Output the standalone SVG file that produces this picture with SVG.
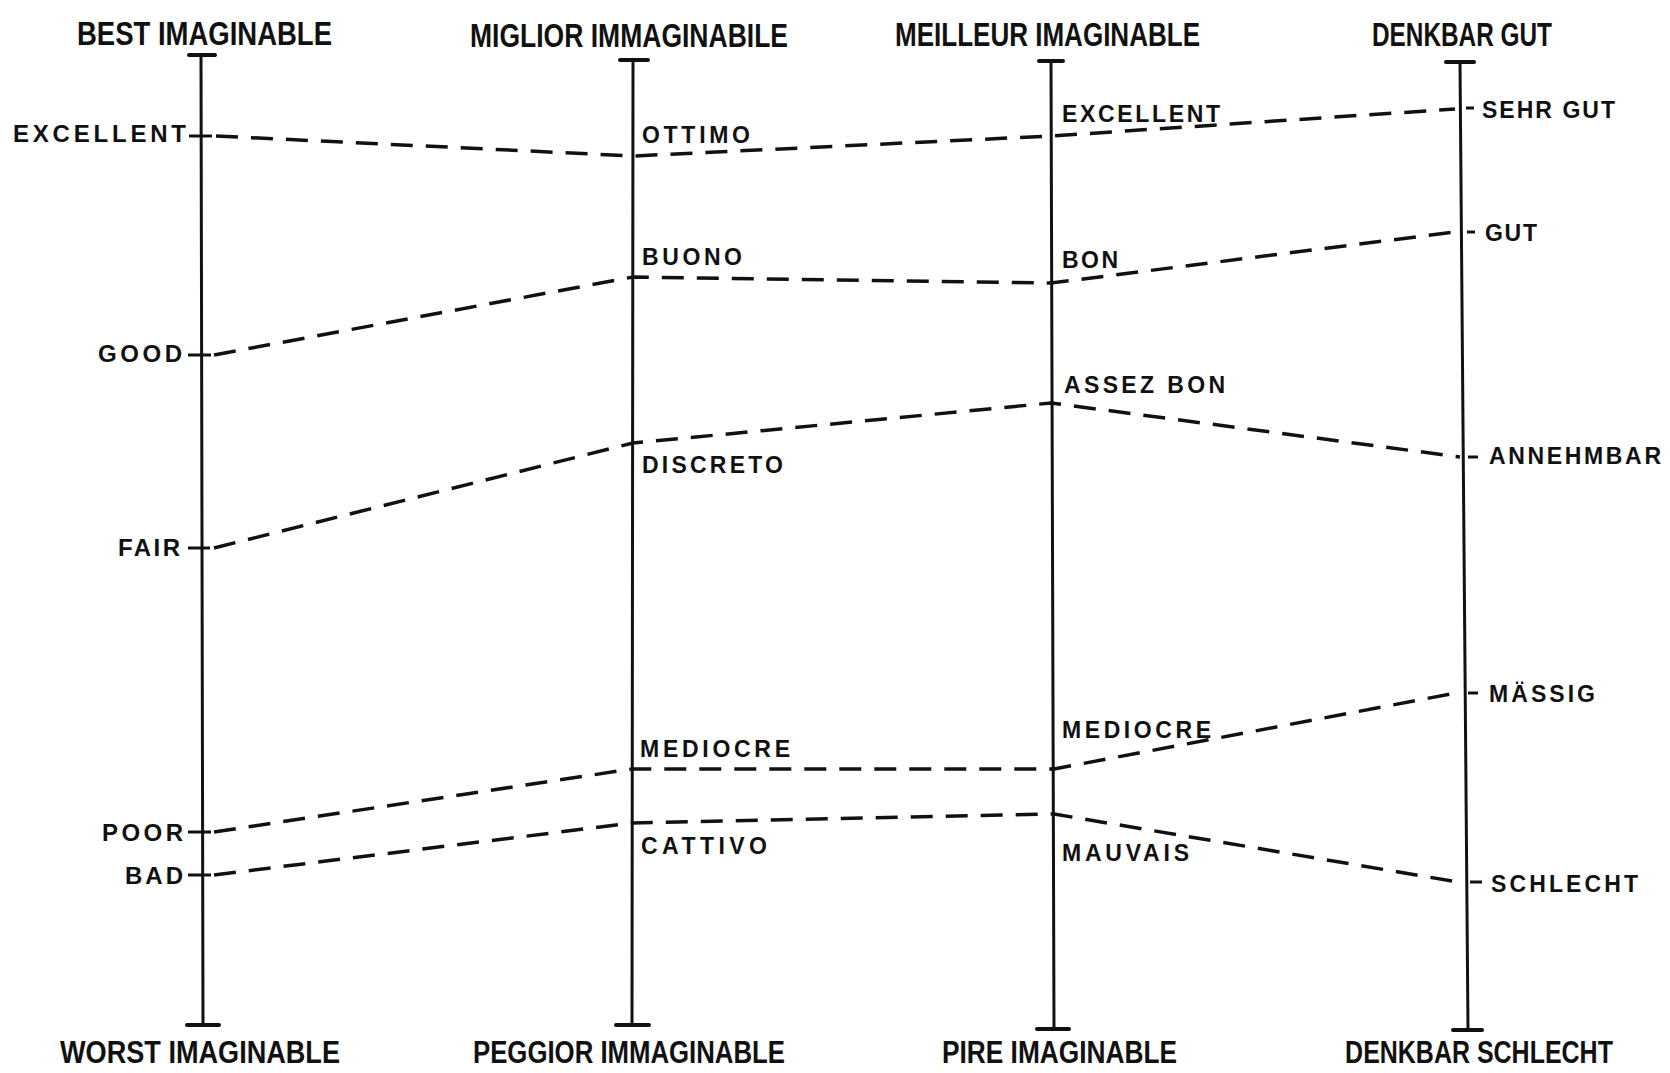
<svg xmlns="http://www.w3.org/2000/svg" width="1670" height="1073" viewBox="0 0 1670 1073">
<style>
.ax{stroke:#111;stroke-width:3;fill:none;stroke-linecap:round}
.cap{stroke:#111;stroke-width:4;fill:none;stroke-linecap:round}
.tk{stroke:#111;stroke-width:3;fill:none}
.cn{stroke:#111;stroke-width:3.5;fill:none;stroke-dasharray:22 13}
.ttl{font-family:"Liberation Sans",Arial,sans-serif;font-weight:bold;font-size:34px;fill:#111;text-anchor:middle}
.ttlb{font-family:"Liberation Sans",Arial,sans-serif;font-weight:bold;font-size:31px;fill:#111;text-anchor:middle}
.lb{font-family:"Liberation Sans",Arial,sans-serif;font-weight:bold;font-size:23px;fill:#111}
.lbl{font-family:"Liberation Sans",Arial,sans-serif;font-weight:bold;font-size:24px;fill:#111;text-anchor:end}
</style>
<rect width="1670" height="1073" fill="#fff"/>

<g id="connectors">
<polyline class="cn" points="216,136 633,156 1051,136 1455,109"/>
<polyline class="cn" points="214,355 633,277 1051,283 1455,232"/>
<polyline class="cn" points="214,548 633,443 1051,403 1460,457"/>
<polyline class="cn" points="214,832 632,769 1054,769 1456,693"/>
<polyline class="cn" points="214,875 632,823 1054,814 1458,882"/>
</g>

<g id="axis-en">
<line class="ax" x1="201" y1="55" x2="203" y2="1025"/>
<line class="cap" x1="189" y1="55" x2="215" y2="55"/>
<line class="cap" x1="187" y1="1025" x2="219" y2="1025"/>
<text class="ttl" x="204.5" y="45" textLength="255" lengthAdjust="spacingAndGlyphs">BEST IMAGINABLE</text>
<text class="ttlb" x="200" y="1063" textLength="280" lengthAdjust="spacingAndGlyphs">WORST IMAGINABLE</text>
<g id="en-excellent"><line class="tk" x1="189" y1="136" x2="212" y2="136"/><text class="lbl" x="186" y="142" textLength="173" lengthAdjust="spacing">EXCELLENT</text></g>
<g id="en-good"><line class="tk" x1="188" y1="355" x2="211" y2="355"/><text class="lbl" x="182" y="362" textLength="84" lengthAdjust="spacing">GOOD</text></g>
<g id="en-fair"><line class="tk" x1="188" y1="548" x2="210" y2="548"/><text class="lbl" x="180" y="556" textLength="62" lengthAdjust="spacing">FAIR</text></g>
<g id="en-poor"><line class="tk" x1="188" y1="832" x2="211" y2="832"/><text class="lbl" x="183" y="841" textLength="81" lengthAdjust="spacing">POOR</text></g>
<g id="en-bad"><line class="tk" x1="188" y1="875" x2="211" y2="875"/><text class="lbl" x="183" y="884" textLength="58" lengthAdjust="spacing">BAD</text></g>
</g>

<g id="axis-it">
<line class="ax" x1="633" y1="60" x2="632" y2="1025"/>
<line class="cap" x1="620" y1="60" x2="648" y2="60"/>
<line class="cap" x1="616" y1="1025" x2="649" y2="1025"/>
<text class="ttl" x="629" y="47" textLength="318" lengthAdjust="spacingAndGlyphs">MIGLIOR IMMAGINABILE</text>
<text class="ttlb" x="629" y="1063" textLength="312" lengthAdjust="spacingAndGlyphs">PEGGIOR IMMAGINABLE</text>
<g id="it-ottimo"><text class="lb" x="642" y="143" textLength="108" lengthAdjust="spacing">OTTIMO</text></g>
<g id="it-buono"><text class="lb" x="642" y="265" textLength="100" lengthAdjust="spacing">BUONO</text></g>
<g id="it-discreto"><text class="lb" x="642" y="473" textLength="141" lengthAdjust="spacing">DISCRETO</text></g>
<g id="it-mediocre"><text class="lb" x="640" y="757" textLength="150" lengthAdjust="spacing">MEDIOCRE</text></g>
<g id="it-cattivo"><text class="lb" x="641" y="854" textLength="126" lengthAdjust="spacing">CATTIVO</text></g>
</g>

<g id="axis-fr">
<line class="ax" x1="1051" y1="61" x2="1054" y2="1029"/>
<line class="cap" x1="1039" y1="61" x2="1063" y2="61"/>
<line class="cap" x1="1037" y1="1029" x2="1069" y2="1029"/>
<text class="ttl" x="1047.5" y="46" textLength="305" lengthAdjust="spacingAndGlyphs">MEILLEUR IMAGINABLE</text>
<text class="ttlb" x="1059.5" y="1063" textLength="235" lengthAdjust="spacingAndGlyphs">PIRE IMAGINABLE</text>
<g id="fr-excellent"><text class="lb" x="1062" y="122" textLength="158" lengthAdjust="spacing">EXCELLENT</text></g>
<g id="fr-bon"><text class="lb" x="1062" y="268" textLength="56" lengthAdjust="spacing">BON</text></g>
<g id="fr-assez-bon"><text class="lb" x="1064" y="393" textLength="161" lengthAdjust="spacing">ASSEZ BON</text></g>
<g id="fr-mediocre"><text class="lb" x="1062" y="738" textLength="149" lengthAdjust="spacing">MEDIOCRE</text></g>
<g id="fr-mauvais"><text class="lb" x="1062" y="861" textLength="127" lengthAdjust="spacing">MAUVAIS</text></g>
</g>

<g id="axis-de">
<line class="ax" x1="1460" y1="62" x2="1468" y2="1030"/>
<line class="cap" x1="1446" y1="62" x2="1474" y2="62"/>
<line class="cap" x1="1453" y1="1030" x2="1482" y2="1030"/>
<text class="ttl" x="1462" y="46" textLength="180" lengthAdjust="spacingAndGlyphs">DENKBAR GUT</text>
<g transform="translate(1479 1063) scale(0.79 1)"><text class="ttlb" x="0" y="0" textLength="339" lengthAdjust="spacingAndGlyphs">DENKBAR SCHLECHT</text></g>
<g id="de-sehr-gut"><line class="tk" x1="1466" y1="108" x2="1474" y2="108"/><text class="lb" x="1482" y="118" textLength="133" lengthAdjust="spacing">SEHR GUT</text></g>
<g id="de-gut"><line class="tk" x1="1467" y1="232" x2="1475" y2="232"/><text class="lb" x="1485" y="241" textLength="52" lengthAdjust="spacing">GUT</text></g>
<g id="de-annehmbar"><line class="tk" x1="1468" y1="457" x2="1478" y2="457"/><text class="lb" x="1489" y="464" textLength="172" lengthAdjust="spacing">ANNEHMBAR</text></g>
<g id="de-massig"><line class="tk" x1="1468" y1="693" x2="1478" y2="693"/><text class="lb" x="1489" y="702" textLength="106" lengthAdjust="spacing">MÄSSIG</text></g>
<g id="de-schlecht"><line class="tk" x1="1470" y1="882" x2="1482" y2="882"/><text class="lb" x="1491" y="892" textLength="147" lengthAdjust="spacing">SCHLECHT</text></g>
</g>
</svg>
